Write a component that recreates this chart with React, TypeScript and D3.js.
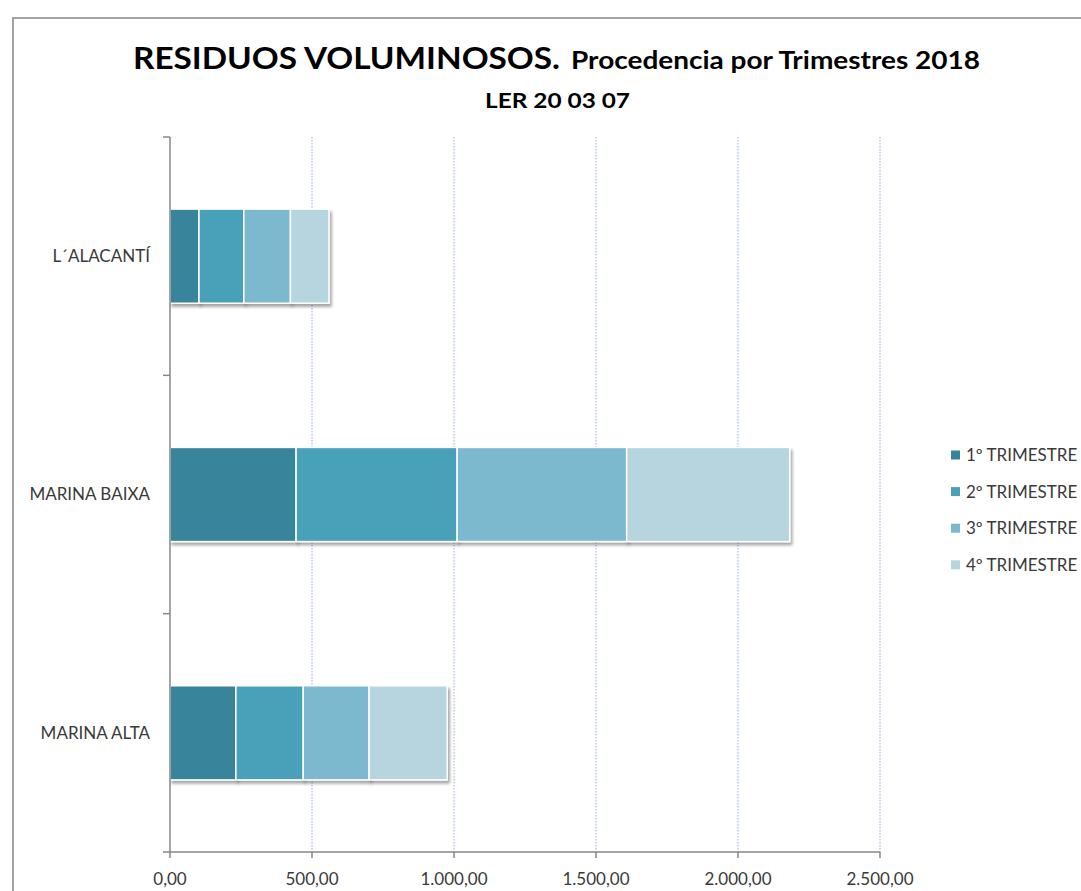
import React, { useEffect, useRef } from 'react';
import * as d3 from 'd3';

const categories = ['L´ALACANTÍ', 'MARINA BAIXA', 'MARINA ALTA'];
const seriesNames = ['1º TRIMESTRE', '2º TRIMESTRE', '3º TRIMESTRE', '4º TRIMESTRE'];
const q1 = [102, 444, 232];
const q2 = [158, 567, 237];
const q3 = [164, 597, 232];
const q4 = [136, 574, 275];
const xTicks = [0, 500, 1000, 1500, 2000, 2500];
const colors = ['#37849A', '#48A1B9', '#7DB9CE', '#B6D5DF'];

const App = () => {
  const svgRef = useRef<SVGSVGElement>(null);

  useEffect(() => {
    const svg = d3.select(svgRef.current);
    svg.selectAll('*').remove();

    const font = 'Lato, "Open Sans", sans-serif';
    const left = 170, right = 880, top = 137, bottom = 852;

    // drop shadow for bar segments
    const defs = svg.append('defs');
    defs.append('filter')
      .attr('id', 'shadow')
      .attr('x', '-10%').attr('y', '-10%')
      .attr('width', '130%').attr('height', '140%')
      .append('feDropShadow')
      .attr('dx', 2).attr('dy', 3)
      .attr('stdDeviation', 1.8)
      .attr('flood-color', '#000')
      .attr('flood-opacity', 0.35);

    // outer frame
    svg.append('rect')
      .attr('x', 13).attr('y', 18)
      .attr('width', 1200).attr('height', 1000)
      .attr('fill', 'white')
      .attr('stroke', '#878787')
      .attr('stroke-width', 1.5);

    // titles (stretched a bit, like the original)
    svg.append('text')
      .attr('x', 133).attr('y', 69)
      .attr('font-family', font)
      .attr('font-weight', 'bold')
      .attr('font-size', 30)
      .attr('textLength', 427)
      .attr('lengthAdjust', 'spacingAndGlyphs')
      .text('RESIDUOS VOLUMINOSOS.');
    svg.append('text')
      .attr('x', 571).attr('y', 69)
      .attr('font-family', font)
      .attr('font-weight', 'bold')
      .attr('font-size', 24)
      .attr('textLength', 409)
      .attr('lengthAdjust', 'spacingAndGlyphs')
      .text('Procedencia por Trimestres 2018');

    svg.append('text')
      .attr('x', 485).attr('y', 108)
      .attr('font-family', font)
      .attr('font-weight', 'bold')
      .attr('font-size', 20)
      .attr('textLength', 145)
      .attr('lengthAdjust', 'spacingAndGlyphs')
      .text('LER 20 03 07');

    const x = d3.scaleLinear().domain([0, 2500]).range([left, right]);
    const y = d3.scaleBand().domain(categories).range([top, bottom]).paddingInner(0.605).paddingOuter(0.3025);
    const yOuter = d3.scaleBand().domain(categories).range([top, bottom]);

    // gridlines
    svg.append('g')
      .selectAll('line')
      .data(xTicks.slice(1))
      .join('line')
      .attr('x1', d => x(d)).attr('x2', d => x(d))
      .attr('y1', top).attr('y2', bottom)
      .attr('stroke', '#95AEDD')
      .attr('stroke-width', 1)
      .attr('stroke-dasharray', '1.5 1.5');

    // stacked bars
    const rows = categories.map((c, i) => ({ cat: c, q1: q1[i], q2: q2[i], q3: q3[i], q4: q4[i] }));
    const stack = d3.stack<any>().keys(['q1', 'q2', 'q3', 'q4'])(rows);

    svg.append('g')
      .selectAll('g')
      .data(stack)
      .join('g')
      .attr('fill', (d, i) => colors[i])
      .selectAll('rect')
      .data(d => d)
      .join('rect')
      .attr('x', d => x(d[0]))
      .attr('y', d => y(d.data.cat)!)
      .attr('width', d => x(d[1]) - x(d[0]))
      .attr('height', y.bandwidth())
      .attr('stroke', 'white')
      .attr('stroke-width', 1.5)
      .attr('filter', 'url(#shadow)');

    // y axis
    const yAxis = svg.append('g');
    yAxis.append('line')
      .attr('x1', left).attr('x2', left)
      .attr('y1', top).attr('y2', bottom)
      .attr('stroke', '#878787').attr('stroke-width', 1.5);
    yAxis.selectAll('line.tick')
      .data([top, ...categories.map(c => yOuter(c)! + yOuter.bandwidth())])
      .join('line')
      .attr('class', 'tick')
      .attr('x1', left - 7).attr('x2', left)
      .attr('y1', d => d).attr('y2', d => d)
      .attr('stroke', '#878787').attr('stroke-width', 1.5);
    yAxis.selectAll('text')
      .data(categories)
      .join('text')
      .attr('x', 150)
      .attr('y', d => yOuter(d)! + yOuter.bandwidth() / 2)
      .attr('dy', '0.35em')
      .attr('text-anchor', 'end')
      .attr('font-family', font)
      .attr('font-size', 17)
      .attr('fill', '#3a3a3a')
      .text(d => d);

    // x axis
    const fmt = d3.formatLocale({ decimal: ',', thousands: '.', grouping: [3], currency: ['', '€'] }).format(',.2f');
    const xAxis = svg.append('g');
    xAxis.append('line')
      .attr('x1', left).attr('x2', right)
      .attr('y1', bottom).attr('y2', bottom)
      .attr('stroke', '#878787').attr('stroke-width', 1.5);
    xAxis.selectAll('line.tick')
      .data(xTicks)
      .join('line')
      .attr('class', 'tick')
      .attr('x1', d => x(d)).attr('x2', d => x(d))
      .attr('y1', bottom).attr('y2', bottom + 6)
      .attr('stroke', '#878787').attr('stroke-width', 1.5);
    xAxis.selectAll('text')
      .data(xTicks)
      .join('text')
      .attr('x', d => x(d))
      .attr('y', 885)
      .attr('text-anchor', 'middle')
      .attr('font-family', font)
      .attr('font-size', 17)
      .attr('fill', '#3a3a3a')
      .text(d => fmt(d));

    // legend
    const legend = svg.append('g')
      .selectAll('g')
      .data(seriesNames)
      .join('g')
      .attr('transform', (d, i) => `translate(951, ${455 + i * 36.6})`);
    legend.append('rect')
      .attr('x', 0).attr('y', -4.5)
      .attr('width', 9).attr('height', 9)
      .attr('fill', (d, i) => colors[i]);
    legend.append('text')
      .attr('x', 15).attr('y', 0)
      .attr('dy', '0.35em')
      .attr('font-family', font)
      .attr('font-size', 17)
      .attr('fill', '#3a3a3a')
      .text(d => d);
  }, []);

  return (
    <svg
      ref={svgRef}
      width={1081}
      height={891}
      style={{ position: 'absolute', left: 0, top: 0, background: 'white' }}
    ></svg>
  );
};

export default App;
